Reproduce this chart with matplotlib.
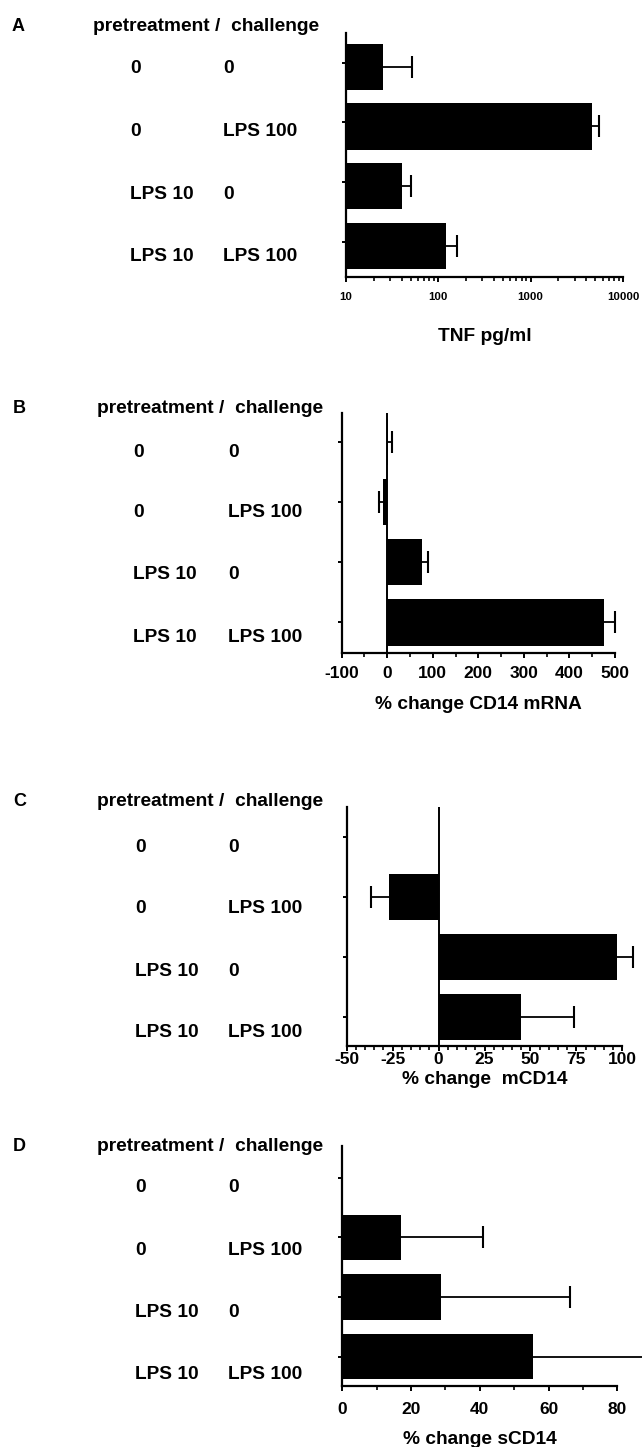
import numpy as np
import matplotlib
matplotlib.use('Agg')
import matplotlib.pyplot as plt
from matplotlib.ticker import MultipleLocator, LogLocator, NullFormatter

plt.rcParams['font.family'] = ['Liberation Sans', 'DejaVu Sans']
plt.rcParams['font.weight'] = 'bold'
plt.rcParams['axes.unicode_minus'] = False

# ---------------- data ----------------
pretreatment = ['0', '0', 'LPS 10', 'LPS 10']
challenge = ['0', 'LPS 100', '0', 'LPS 100']
header = 'pretreatment /  challenge'

tnf_values = [25.4, 4620, 40.4, 121]
tnf_err = [26, 920, 10, 38]
tnf_ticks = [10, 100, 1000, 10000]
tnf_ticklabels = ['10', '100', '1000', '10000']

mrna_values = [1, -10, 76, 475]
mrna_err = [9, 8, 13, 24]
mrna_ticks = [-100, 0, 100, 200, 300, 400, 500]

mcd14_values = [0, -27, 97, 45]
mcd14_err = [0, 10, 9, 28.5]
mcd14_ticks = [-50, -25, 0, 25, 50, 75, 100]

scd14_values = [0, 17, 28.7, 55.6]
scd14_err = [0, 24, 37.5, 36]
scd14_ticks = [0, 20, 40, 60, 80]

# ---------------- layout ----------------
W, H = 642, 1447
fig = plt.figure(figsize=(W / 100, H / 100), dpi=100)

def fx(x):
    return x / W

def fy(y):
    return 1 - y / H

panels = [
    dict(letter='A', box=(346, 623, 33, 277), values=tnf_values, err=tnf_err,
         xlim=(10, 10000), ticks=tnf_ticks, ticklabels=tnf_ticklabels, log=True,
         minor=None, ylim=(3.518, -0.564), tickoff=-0.067, height=0.77,
         xlabel='TNF pg/ml', ticksize=8.2, tickpad=7.5, label_top=328,
         zero=False,
         header_y=30.7, letter_x=12, header_x=93,
         rows_y=[73.4, 136, 199.4, 260.7], col1=130, col2=223),
    dict(letter='B', box=(341.7, 615, 412.7, 652.7), values=mrna_values, err=mrna_err,
         xlim=(-100, 500), ticks=mrna_ticks, ticklabels=None, log=False,
         minor=50, ylim=(3.507, -0.488), tickoff=0.0, height=0.775,
         xlabel='% change CD14 mRNA', ticksize=12.5, tickpad=6.5, label_top=696,
         zero=True,
         header_y=413.3, letter_x=12.7, header_x=97,
         rows_y=[456.7, 516.7, 579.4, 641.7], col1=133, col2=228),
    dict(letter='C', box=(346.7, 622.3, 806.7, 1046), values=mcd14_values, err=mcd14_err,
         xlim=(-50, 100), ticks=mcd14_ticks, ticklabels=None, log=False,
         minor=5, ylim=(3.49, -0.5), tickoff=0.0, height=0.767,
         xlabel='% change  mCD14', ticksize=12.5, tickpad=0.8, label_top=1071,
         zero=True,
         header_y=806, letter_x=13, header_x=97,
         rows_y=[851.7, 913.4, 975.7, 1036.7], col1=135, col2=228),
    dict(letter='D', box=(342.3, 617.3, 1146, 1386), values=scd14_values, err=scd14_err,
         xlim=(0, 80), ticks=scd14_ticks, ticklabels=None, log=False,
         minor=10, ylim=(3.49, -0.53), tickoff=0.0, height=0.76,
         xlabel='% change sCD14', ticksize=12.5, tickpad=8.0, label_top=1431,
         zero=False,
         header_y=1150.7, letter_x=13, header_x=97,
         rows_y=[1191.7, 1254.7, 1316.7, 1378.7], col1=135, col2=228),
]

txt_size = 13.8

for p in panels:
    l, r, t, b = p['box']
    ax = fig.add_axes([fx(l), fy(b), (r - l) / W, (b - t) / H])
    pos = np.arange(len(p['values']))
    vals = np.array(p['values'], dtype=float)
    errs = np.array(p['err'], dtype=float)

    if p['log']:
        ax.set_xscale('log')
        base = p['xlim'][0]
        ax.barh(pos, vals - base, left=base, height=p['height'], color='black',
                linewidth=0, zorder=2)
    else:
        ax.barh(pos, vals, height=p['height'], color='black', linewidth=0, zorder=2)

    # one-sided error bars: line from bar end to the far end, cap only at far end
    for i in range(len(vals)):
        if errs[i] <= 0:
            continue
        far = vals[i] + errs[i] if vals[i] >= 0 else vals[i] - errs[i]
        ax.plot([vals[i], far], [pos[i], pos[i]], color='black', lw=1.3,
                solid_capstyle='butt', zorder=3, clip_on=False)
        ax.plot([far], [pos[i]], marker='|', ms=16, mew=1.5, color='black',
                zorder=3, clip_on=False)

    if p['zero']:
        ax.axvline(0, color='black', lw=1.4, zorder=4)

    ax.set_xlim(*p['xlim'])
    ax.set_ylim(*p['ylim'])

    for s in ['top', 'right']:
        ax.spines[s].set_visible(False)
    for s in ['left', 'bottom']:
        ax.spines[s].set_linewidth(1.6)

    ax.set_yticks(pos + p['tickoff'])
    ax.set_yticklabels([])
    ax.tick_params(axis='y', direction='out', length=3.2, width=1.4)

    ax.set_xticks(p['ticks'])
    if p['ticklabels'] is not None:
        ax.set_xticklabels(p['ticklabels'])
    if p['log']:
        ax.xaxis.set_minor_locator(LogLocator(base=10, subs=np.arange(2, 10)))
        ax.xaxis.set_minor_formatter(NullFormatter())
    else:
        ax.xaxis.set_minor_locator(MultipleLocator(p['minor']))
    ax.tick_params(axis='x', which='major', direction='out', length=3.4, width=1.4,
                   labelsize=p['ticksize'], pad=p['tickpad'])
    ax.tick_params(axis='x', which='minor', direction='out', length=2.6, width=1.2)
    for lab in ax.get_xticklabels():
        lab.set_fontweight('bold')

    ax.set_xlabel(p['xlabel'], fontsize=txt_size, fontweight='bold', va='top')
    ax.xaxis.set_label_coords(0.5, -(p['label_top'] - b) / (b - t))

    # left-hand text
    fig.text(fx(p['letter_x']), fy(p['header_y']), p['letter'], fontsize=13,
             fontweight='bold', va='baseline', ha='left')
    fig.text(fx(p['header_x']), fy(p['header_y']), header, fontsize=txt_size,
             fontweight='bold', va='baseline', ha='left')
    for i in range(len(pretreatment)):
        fig.text(fx(p['col1']), fy(p['rows_y'][i]), pretreatment[i], fontsize=txt_size,
                 fontweight='bold', va='baseline', ha='left')
        fig.text(fx(p['col2']), fy(p['rows_y'][i]), challenge[i], fontsize=txt_size,
                 fontweight='bold', va='baseline', ha='left')

fig.savefig('out.png', dpi=100)
